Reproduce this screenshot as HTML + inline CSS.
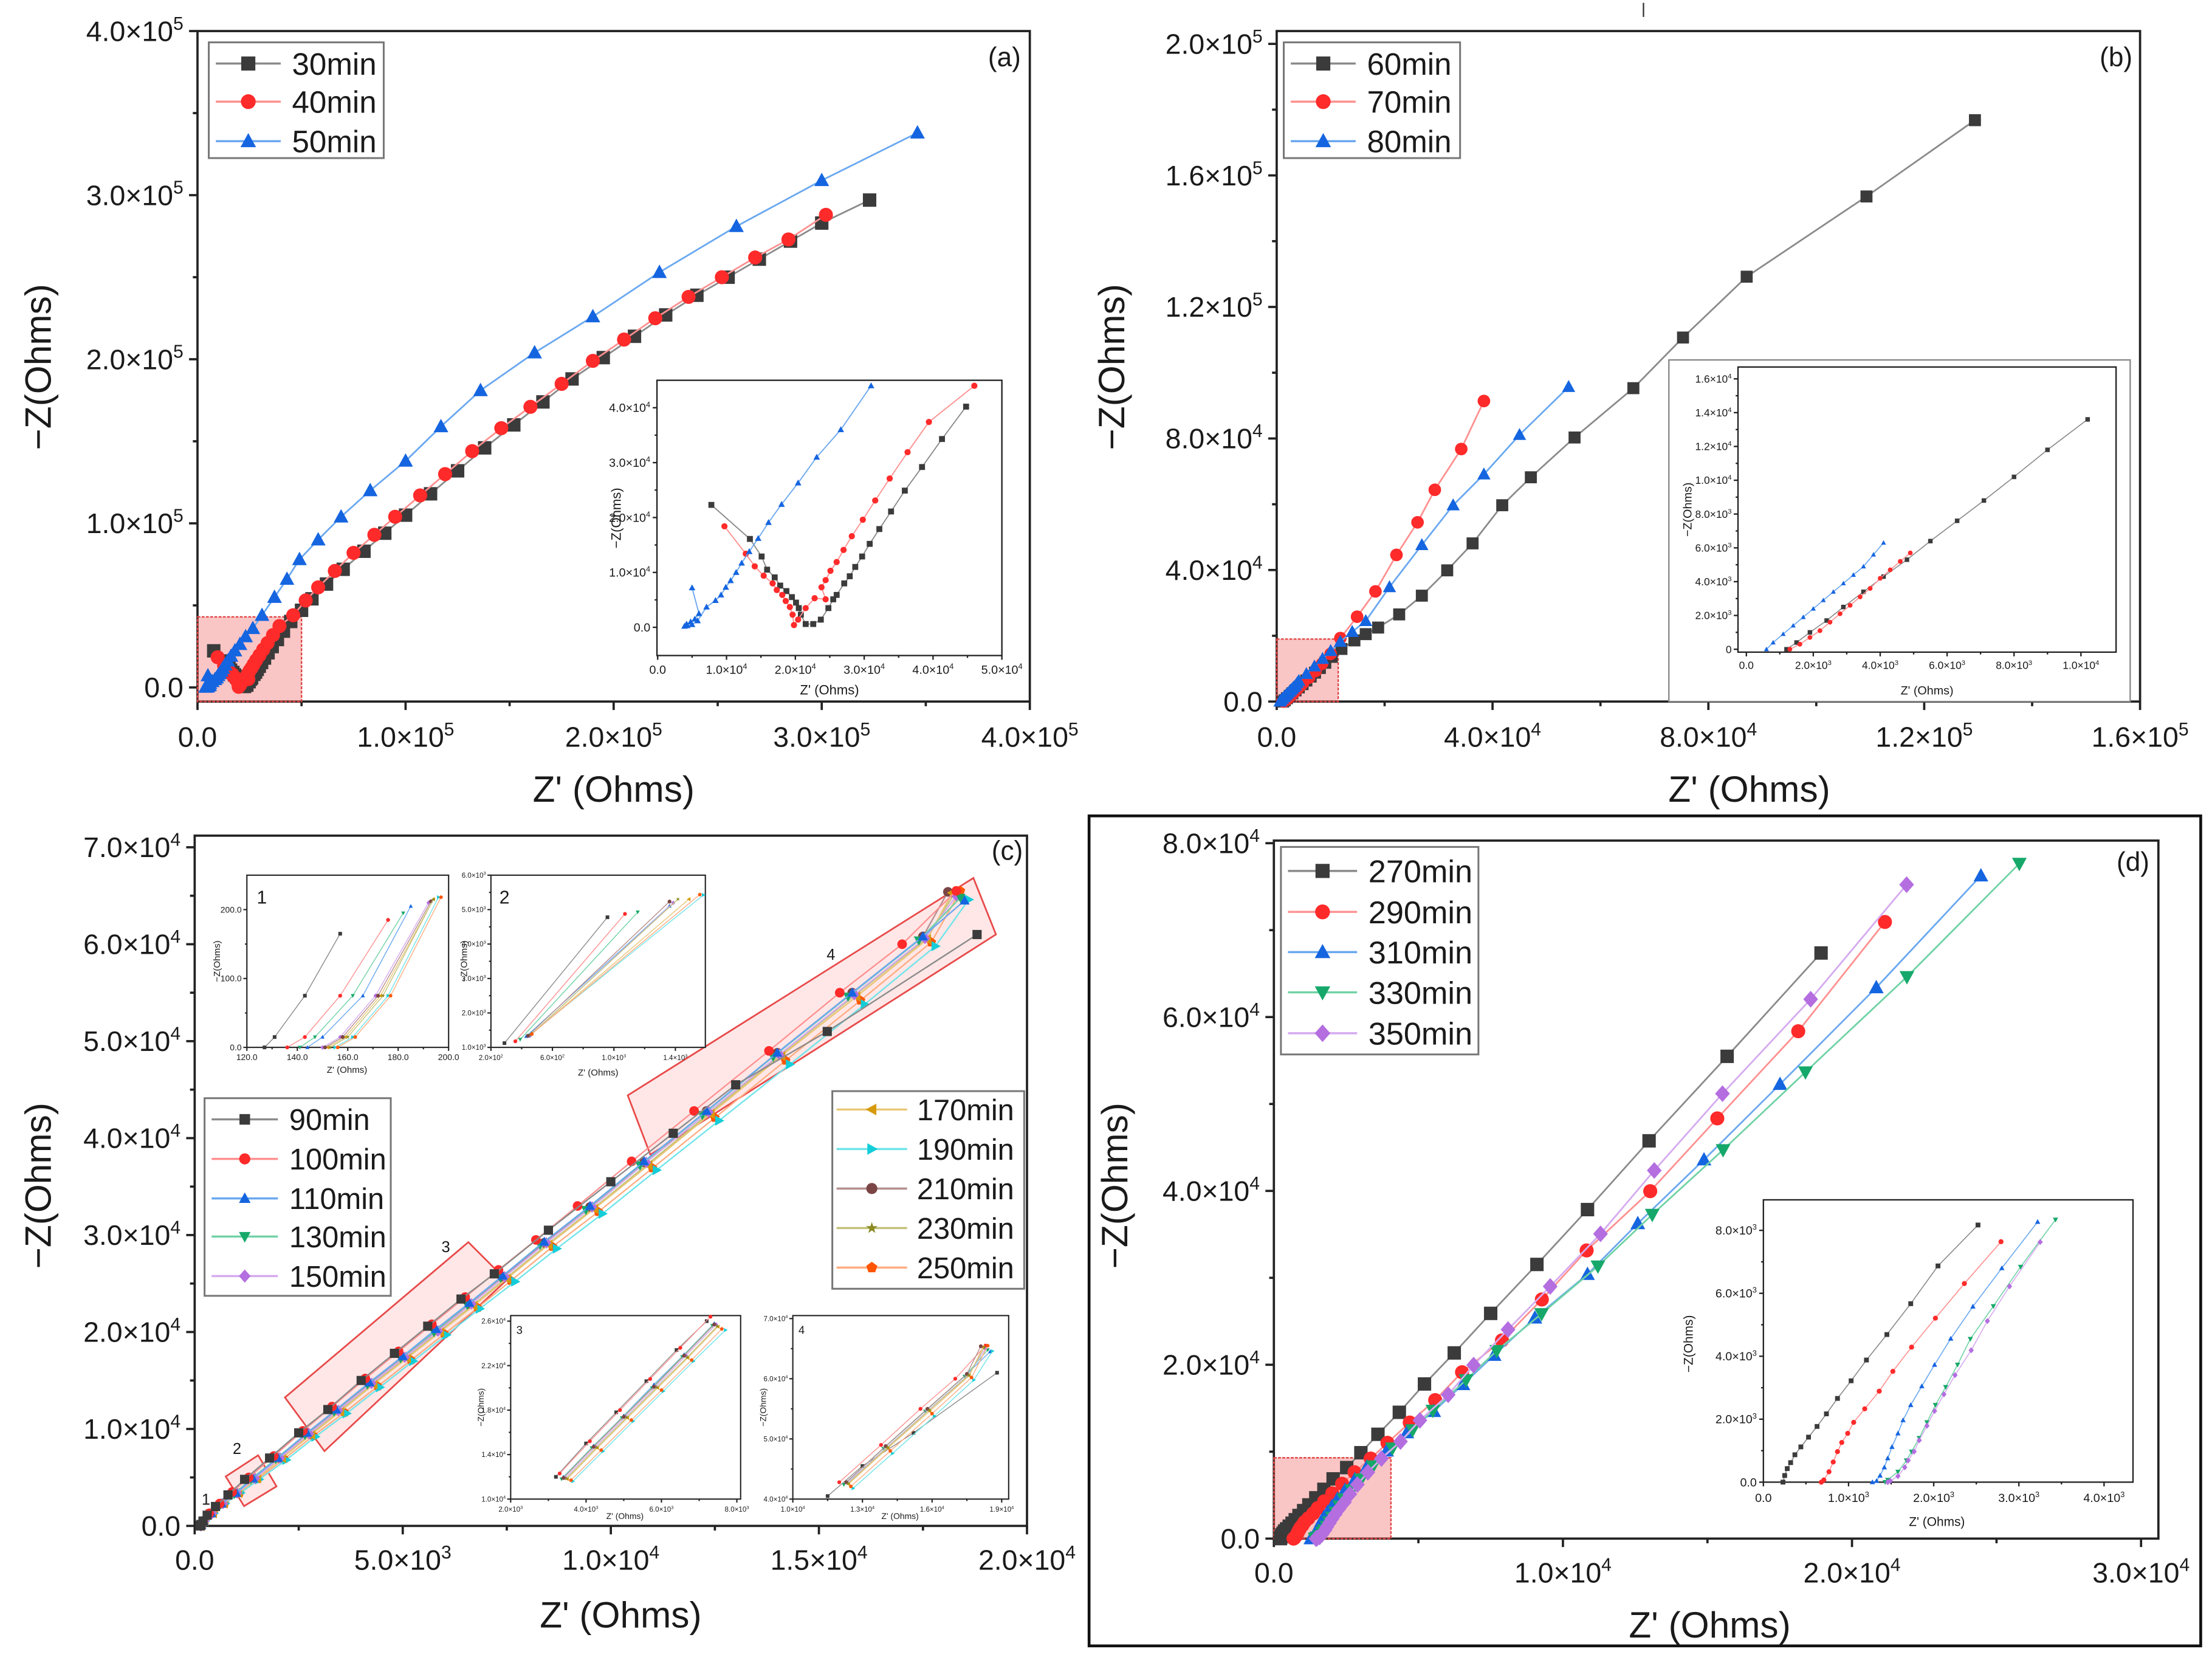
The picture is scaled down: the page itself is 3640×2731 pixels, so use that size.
<!DOCTYPE html>
<html><head><meta charset="utf-8"><title>Nyquist plots</title>
<style>html,body{margin:0;padding:0;background:#fff}svg{display:block}</style></head>
<body>
<svg id="fig" xmlns="http://www.w3.org/2000/svg" width="3640" height="2731" viewBox="0 0 1568 1176" preserveAspectRatio="none" font-family="'Liberation Sans', Arial, sans-serif">
<rect x="0" y="0" width="1568" height="1176" fill="#fff"/>
<rect x="772" y="578" width="788" height="588" fill="none" stroke="#111" stroke-width="2"/>
<line x1="1165" y1="2" x2="1165" y2="12" stroke="#333" stroke-width="1"/>
</svg>
<script>
// ---------- DATA (units: kOhm for main panels) ----------
const seriesA = ["30min","40min","50min"];
const a30x = [7.8,13.4,15.1,15.9,17,17.8,18.7,19.5,20.1,20.5,20.8,21.5,22.6,23.7,24.8,25.5,26,27.1,27.9,28.7,29.7,30.8,32.2,33.9,35.9,38.4,41.3,44.8,50,55,62,70,80,90,100,112,125,138,152,166,180,195,210,225,240,255,270,285,300,323];
const a30y = [22.3,16.1,12.9,10.5,9.1,7.6,6.6,5.5,4.5,3.5,2.3,0.6,0.6,1.4,3.5,5.1,5.9,8,9.3,11,12.9,15.2,17.9,21.1,24.9,29.2,34.3,40.2,47,54,63,72,83,94,105,118,132,146,160,174,188,201,214,227,239,250,261,272,283,297];
const a40x = [9.7,12.8,14.1,15.4,16.7,17.3,18.1,18.6,19.2,19.6,19.8,20.4,21.5,22.8,24.4,23.8,24.4,25.1,26,27,28.2,29.8,31.6,33.7,36.3,39.4,46,52,58,66,75,85,95,107,119,132,146,160,175,190,205,220,236,252,268,284,302];
const a40y = [18.4,13.4,11.1,9.4,8,6.8,5.9,4.8,3.7,2.3,0.4,1.4,3.5,5.3,5.1,7.3,8.6,10.3,11.9,14.1,16.6,19.6,23.1,27.1,31.9,37.4,44,53,61,71,82,93,104,117,130,144,158,171,185,199,212,225,238,250,262,273,288];
const a50x = [5,6,5.4,4.8,4.2,3.9,4.3,5,5.8,7.1,8.4,9.2,9.9,10.6,11.4,12.2,13.3,14.6,16.1,18,20.4,23.1,26.6,31,37,43,49,58,69,83,100,117,136,162,190,222,259,300,346];
const a50y = [7.2,2.5,1.5,1,0.6,0.2,0.3,0.5,1.2,3.7,4.9,5.9,7.3,8.5,10,11.7,13.8,16.2,19.1,22.4,26.3,31,36,44,55,66,78,90,104,120,138,159,181,204,226,253,281,309,338];

const seriesB = ["60min","70min","80min"];
const b60x = [1.2,1.5,1.9,2.4,2.9,3.5,4.1,4.8,5.5,6.3,7.1,8,9,10.2,12,14.4,16.5,18.8,22.7,26.9,31.6,36.3,41.8,47.1,55.2,66.1,75.3,87.1,109.3,129.4];
const b60y = [0,0.4,1,1.7,2.5,3.4,4.3,5.3,6.4,7.6,8.8,10.2,11.8,13.6,16,18.6,20.5,22.5,26.5,32.2,39.9,48.1,59.7,68.2,80.3,95.3,110.7,129.2,153.6,176.8];
const b70x = [1.3,1.6,1.9,2.2,2.5,2.8,3.1,3.4,3.7,4,4.3,4.6,4.9,6,7.2,8.4,10,11.8,14.9,18.3,22.2,26.1,29.3,34.2,38.4];
const b70y = [0,0.3,0.7,1.1,1.6,2.1,2.6,3.1,3.6,4.2,4.7,5.2,5.7,7.3,9.3,11.5,14.5,19.3,25.8,33.5,44.6,54.5,64.4,76.8,91.4];
const b80x = [0.6,0.8,1.1,1.4,1.7,2,2.3,2.6,2.9,3.2,3.5,3.8,4.1,5.5,7,8.5,10,11.8,14,16.5,20.9,26.9,32.7,38.4,45,54.1];
const b80y = [0,0.4,0.9,1.4,1.9,2.4,2.9,3.4,3.9,4.4,4.9,5.6,6.3,8.4,10.7,13,15.4,18.2,21.2,24.5,34.8,47.6,59.7,69.1,81.1,95.7];

const seriesC = ["90min","100min","110min","130min","150min","170min","190min","210min","230min","250min"];
const c90x  = [0.127,0.135,0.15,0.2,0.3,0.5,0.8,1.2,1.8,2.5,3.2,4,4.8,5.6,6.4,7.2,8.5,10,11.5,13,15.2,18.8];
const c90y  = [0,0.05,0.15,0.5,1.1,2,3.2,4.8,7,9.6,12,15,17.8,20.6,23.4,26,30.5,35.5,40.5,45.5,51,61];
const c100x = [0.137,0.15,0.2,0.35,0.6,0.9,1.3,1.9,2.6,3.3,4.1,4.9,5.7,6.5,7.3,8.2,9.2,10.5,12,13.8,15.5,17,18.3];
const c100y = [0,0.1,0.5,1.3,2.3,3.5,5,7.2,9.8,12.3,15.2,18,20.8,23.6,26.4,29.5,33,37.6,42.8,49,55,60,65.5];
const c110x = [0.145,0.16,0.22,0.4,0.65,1,1.4,2,2.7,3.4,4.2,5,5.8,6.6,7.4,8.4,9.5,10.8,12.3,14,15.8,17.5,18.5];
const c110y = [0,0.1,0.5,1.3,2.3,3.4,4.9,7,9.6,12,14.8,17.5,20.3,23,25.8,29.3,33,37.6,42.8,48.8,55,60.8,64.5];
const c130x = [0.142,0.155,0.21,0.38,0.62,0.95,1.35,1.95,2.65,3.35,4.15,4.95,5.75,6.55,7.35,8.3,9.4,10.7,12.2,13.9,15.7,17.4,18.4];
const c130y = [0,0.1,0.5,1.3,2.2,3.3,4.8,6.9,9.4,11.8,14.6,17.3,20,22.8,25.6,29,32.6,37.2,42.4,48.4,54.6,60.4,64.8];
const c150x = [0.15,0.165,0.23,0.42,0.68,1.02,1.45,2.05,2.75,3.45,4.25,5.05,5.85,6.65,7.45,8.45,9.55,10.85,12.35,14.05,15.85,17.55,18.3];
const c150y = [0,0.1,0.5,1.3,2.3,3.4,4.9,7,9.5,11.9,14.7,17.4,20.1,22.9,25.7,29.2,32.9,37.5,42.7,48.6,54.8,60.6,65];
const c170x = [0.153,0.17,0.24,0.44,0.7,1.05,1.5,2.1,2.8,3.5,4.3,5.1,5.9,6.7,7.5,8.5,9.6,10.9,12.4,14.1,15.9,17.6,18.2];
const c170y = [0,0.1,0.5,1.3,2.3,3.4,4.9,7,9.4,11.8,14.6,17.3,20,22.7,25.5,29,32.7,37.2,42.5,48.5,54.6,60.5,65.3];
const c190x = [0.158,0.175,0.25,0.46,0.73,1.1,1.55,2.2,2.9,3.65,4.45,5.25,6.05,6.85,7.7,8.7,9.8,11.1,12.6,14.3,16.1,17.8,18.6];
const c190y = [0,0.1,0.5,1.3,2.3,3.4,4.8,6.8,9.2,11.6,14.3,17,19.7,22.4,25.2,28.6,32.2,36.7,41.8,47.6,53.8,59.8,64.6];
const c210x = [0.15,0.165,0.22,0.41,0.66,1,1.42,2,2.7,3.4,4.2,5,5.8,6.6,7.4,8.4,9.5,10.8,12.3,14,15.8,17.5,18.1];
const c210y = [0,0.1,0.5,1.3,2.3,3.4,4.9,7,9.5,11.9,14.7,17.4,20.1,22.9,25.7,29.2,32.9,37.5,42.8,48.8,55,60.8,65.4];
const c230x = [0.152,0.168,0.235,0.43,0.69,1.03,1.47,2.07,2.78,3.48,4.28,5.08,5.88,6.68,7.48,8.48,9.58,10.88,12.38,14.08,15.88,17.58,18.25];
const c230y = [0,0.1,0.5,1.3,2.3,3.4,4.9,7,9.45,11.85,14.65,17.35,20.05,22.75,25.55,29.05,32.75,37.3,42.6,48.6,54.8,60.6,65.2];
const c250x = [0.156,0.172,0.245,0.45,0.72,1.08,1.52,2.15,2.85,3.6,4.4,5.2,6,6.8,7.6,8.6,9.7,11,12.5,14.2,16,17.7,18.4];
const c250y = [0,0.1,0.5,1.3,2.3,3.4,4.85,6.9,9.3,11.7,14.4,17.1,19.8,22.5,25.3,28.8,32.4,36.9,42.1,48,54.2,60.2,65.5];
// inset 1 (Ohms)
const c1x = [[127,131,143,157],[136,143,157,176],[144,150,166,185],[141,147,162,182],[150,157,171,192],[152,159,173,194],[155,162,176,196],[151,158,172,193],[153,160,174,194],[156,163,177,197]];
const c1y = [[0,15,75,165],[0,15,75,185],[0,15,75,205],[0,15,75,195],[0,15,75,210],[0,15,75,215],[0,15,75,218],[0,15,75,212],[0,15,75,215],[0,15,75,218]];
// inset 2 (Ohms)
const c2x = [[288,958],[359,1072],[430,1362],[390,1155],[454,1386],[466,1488],[466,1583],[442,1362],[459,1417],[466,1559]];
const c2y = [[1123,4778],[1177,4875],[1322,5105],[1230,4928],[1338,5196],[1391,5303],[1407,5426],[1338,5234],[1364,5303],[1391,5437]];

const seriesD = ["270min","290min","310min","330min","350min"];
const d270x = [0.23,0.25,0.28,0.32,0.37,0.44,0.53,0.63,0.74,0.87,1.03,1.21,1.45,1.73,2.05,2.52,3.01,3.6,4.34,5.21,6.24,7.5,9.1,10.85,12.98,15.68,18.93];
const d270y = [0,0.21,0.43,0.62,0.87,1.12,1.43,1.77,2.17,2.66,3.22,3.88,4.69,5.67,6.87,8.17,9.88,12,14.53,17.79,21.36,25.91,31.54,37.85,45.76,55.48,67.37];
const d290x = [0.68,0.71,0.77,0.82,0.87,0.92,0.99,1.06,1.19,1.36,1.52,1.74,2.02,2.36,2.79,3.35,3.93,4.7,5.58,6.51,7.89,9.27,10.82,13.02,15.34,18.14,21.14];
const d290y = [0,0.07,0.33,0.64,0.97,1.26,1.55,1.9,2.33,2.89,3.52,4.29,5.21,6.31,7.64,9.21,11.02,13.35,15.93,19.14,22.8,27.51,33.15,39.97,48.34,58.37,70.94];
const d310x = [1.28,1.33,1.37,1.42,1.46,1.51,1.58,1.64,1.73,1.86,2.01,2.2,2.46,2.8,3.22,3.9,4.6,5.53,6.54,7.62,9.03,10.85,12.59,14.88,17.51,20.84,24.46];
const d310y = [0,0.04,0.21,0.47,0.76,1.12,1.55,1.97,2.45,3.05,3.73,4.56,5.58,6.8,8.27,10.1,12.2,14.64,17.74,21.1,25.39,30.41,36.25,43.59,52.27,63.39,76.26];
const d330x = [1.43,1.46,1.58,1.68,1.74,1.83,1.92,2.02,2.14,2.28,2.43,2.7,3.02,3.43,4.1,4.8,5.5,6.65,7.71,9.26,11.21,13.09,15.54,18.39,21.9,25.79];
const d330y = [0,0.07,0.33,0.69,0.97,1.4,1.9,2.45,3.02,3.73,4.55,5.59,6.84,8.34,10.4,12.5,14.74,18.26,21.62,25.86,31.34,37.28,44.72,53.67,64.63,77.66];
const d350x = [1.46,1.49,1.58,1.66,1.7,1.77,1.83,1.92,2.01,2.12,2.25,2.44,2.63,2.89,3.25,3.72,4.38,5.05,6.03,6.91,8.1,9.56,11.3,13.16,15.52,18.57,21.89];
const d350y = [0,0.04,0.19,0.47,0.69,0.97,1.33,1.79,2.26,2.79,3.4,4.19,5.12,6.22,7.63,9.21,11.17,13.6,16.55,19.96,24.05,29.01,35.06,42.35,51.19,62.05,75.23];

// tick arrays
const aTicks = [0,100,200,300,400];
const aTickLabels = ["0.0","1.0×10^5","2.0×10^5","3.0×10^5","4.0×10^5"];
const aiXTicks = [0,10,20,30,40,50];
const aiXLabels = ["0.0","1.0×10^4","2.0×10^4","3.0×10^4","4.0×10^4","5.0×10^4"];
const aiYTicks = [0,10,20,30,40];
const aiYLabels = ["0.0","1.0×10^4","2.0×10^4","3.0×10^4","4.0×10^4"];
const bXTicks = [0,40,80,120,160];
const bXLabels = ["0.0","4.0×10^4","8.0×10^4","1.2×10^5","1.6×10^5"];
const bYTicks = [0,40,80,120,160,200];
const bYLabels = ["0.0","4.0×10^4","8.0×10^4","1.2×10^5","1.6×10^5","2.0×10^5"];
const biXTicks = [0,2,4,6,8,10];
const biXLabels = ["0.0","2.0×10^3","4.0×10^3","6.0×10^3","8.0×10^3","1.0×10^4"];
const biYTicks = [0,2,4,6,8,10,12,14,16];
const biYLabels = ["0","2.0×10^3","4.0×10^3","6.0×10^3","8.0×10^3","1.0×10^4","1.2×10^4","1.4×10^4","1.6×10^4"];
const cXTicks = [0,5,10,15,20];
const cXLabels = ["0.0","5.0×10^3","1.0×10^4","1.5×10^4","2.0×10^4"];
const cYTicks = [0,10,20,30,40,50,60,70];
const cYLabels = ["0.0","1.0×10^4","2.0×10^4","3.0×10^4","4.0×10^4","5.0×10^4","6.0×10^4","7.0×10^4"];
const c1XTicks = [120,140,160,180,200], c1XLabels = ["120.0","140.0","160.0","180.0","200.0"];
const c1YTicks = [0,100,200], c1YLabels = ["0.0","100.0","200.0"];
const c2XTicks = [200,600,1000,1400], c2XLabels = ["2.0×10^2","6.0×10^2","1.0×10^3","1.4×10^3"];
const c2YTicks = [1000,2000,3000,4000,5000,6000], c2YLabels = ["1.0×10^3","2.0×10^3","3.0×10^3","4.0×10^3","5.0×10^3","6.0×10^3"];
const c3XTicks = [2,4,6,8], c3XLabels = ["2.0×10^3","4.0×10^3","6.0×10^3","8.0×10^3"];
const c3YTicks = [10,14,18,22,26], c3YLabels = ["1.0×10^4","1.4×10^4","1.8×10^4","2.2×10^4","2.6×10^4"];
const c4XTicks = [10,13,16,19], c4XLabels = ["1.0×10^4","1.3×10^4","1.6×10^4","1.9×10^4"];
const c4YTicks = [40,50,60,70], c4YLabels = ["4.0×10^4","5.0×10^4","6.0×10^4","7.0×10^4"];
const dXTicks = [0,10,20,30], dXLabels = ["0.0","1.0×10^4","2.0×10^4","3.0×10^4"];
const dYTicks = [0,20,40,60,80], dYLabels = ["0.0","2.0×10^4","4.0×10^4","6.0×10^4","8.0×10^4"];
const diXTicks = [0,1,2,3,4], diXLabels = ["0.0","1.0×10^3","2.0×10^3","3.0×10^3","4.0×10^3"];
const diYTicks = [0,2,4,6,8], diYLabels = ["0.0","2.0×10^3","4.0×10^3","6.0×10^3","8.0×10^3"];

// ---------- RENDERING ----------
const NS = "http://www.w3.org/2000/svg";
const svg = document.getElementById('fig');
function mk(tag, parent, attrs) {
  const e = document.createElementNS(NS, tag);
  for (const k in attrs) e.setAttribute(k, attrs[k]);
  parent.appendChild(e);
  return e;
}
const STY = {
  black:{f:"#3b3b3b",l:"#8a8a8a",m:"square"}, red:{f:"#ff2a2a",l:"#ff9090",m:"circle"},
  blue:{f:"#1565e0",l:"#6aa8f0",m:"up"}, green:{f:"#16a86a",l:"#6fd2a5",m:"down"},
  violet:{f:"#b46ee0",l:"#d5aaf0",m:"diamond"}, gold:{f:"#d79a0c",l:"#eac676",m:"left"},
  cyan:{f:"#14cdd8",l:"#6fe4ea",m:"right"}, brown:{f:"#7b4545",l:"#b48e8e",m:"circle"},
  olive:{f:"#8a8a20",l:"#c2c27c",m:"star"}, orange:{f:"#ff5500",l:"#ffac80",m:"pent"}
};
function marker(parent, shape, x, y, s, color) {
  const h = s/2; let e;
  if (shape === "square") e = mk("rect", parent, {x:x-h, y:y-h, width:s, height:s});
  else if (shape === "circle") e = mk("circle", parent, {cx:x, cy:y, r:h*1.05});
  else {
    let p;
    if (shape === "up") p = [[x,y-h*1.15],[x+h*1.1,y+h*0.85],[x-h*1.1,y+h*0.85]];
    else if (shape === "down") p = [[x,y+h*1.15],[x+h*1.1,y-h*0.85],[x-h*1.1,y-h*0.85]];
    else if (shape === "left") p = [[x-h*1.15,y],[x+h*0.85,y-h*1.1],[x+h*0.85,y+h*1.1]];
    else if (shape === "right") p = [[x+h*1.15,y],[x-h*0.85,y-h*1.1],[x-h*0.85,y+h*1.1]];
    else if (shape === "diamond") p = [[x,y-h*1.25],[x+h*1.1,y],[x,y+h*1.25],[x-h*1.1,y]];
    else if (shape === "star") { p = []; for (let i=0;i<10;i++){const r=(i%2?0.45:1.15)*h, a=-Math.PI/2+i*Math.PI/5; p.push([x+r*Math.cos(a), y+r*Math.sin(a)]);} }
    else { p = []; for (let i=0;i<5;i++){const a=-Math.PI/2+i*2*Math.PI/5; p.push([x+h*1.1*Math.cos(a), y+h*1.1*Math.sin(a)]);} }
    e = mk("polygon", parent, {points: p.map(q=>q[0].toFixed(2)+","+q[1].toFixed(2)).join(" ")});
  }
  e.setAttribute("fill", color);
  
  
  return e;
}
function sx(P, v) { return P.px0 + (v - P.x0) / (P.x1 - P.x0) * (P.px1 - P.px0); }
function sy(P, v) { return P.py0 - (v - P.y0) / (P.y1 - P.y0) * (P.py0 - P.py1); }
function label(parent, x, y, s, size, anchor, rot) {
  const t = mk("text", parent, {x:x, y:y, "font-size":size, "text-anchor":anchor||"middle", fill:"#1a1a1a"});
  if (rot) t.setAttribute("transform", "rotate(-90 "+x+" "+y+")");
  const parts = s.split("^");
  t.appendChild(document.createTextNode(parts[0]));
  if (parts.length > 1) {
    const sp = mk("tspan", t, {dy:(-size*0.4).toFixed(2), "font-size":(size*0.65).toFixed(2)});
    sp.textContent = parts[1];
  }
  return t;
}
function axes(g, P, xt, xl, yt, yl, o) {
  const fr = mk("rect", g, {x:P.px0, y:P.py1, width:P.px1-P.px0, height:P.py0-P.py1, fill:o.bg||"none", stroke:"#222", "stroke-width":o.lw});
  
  
  const tl = o.tick;
  const xa = mk("g", g, {});
  
  
  xt.forEach((v,i) => {
    const x = sx(P, v);
    mk("line", xa, {x1:x, y1:P.py0, x2:x, y2:P.py0+tl, stroke:"#222", "stroke-width":o.lw});
    if (i < xt.length-1) { const xm = sx(P, (v + xt[i+1])/2); mk("line", xa, {x1:xm, y1:P.py0, x2:xm, y2:P.py0+tl*0.55, stroke:"#222", "stroke-width":o.lw}); }
    const t = label(xa, x, P.py0 + o.xoff, xl[i], o.fs, "middle");
    
    
  });
  const ya = mk("g", g, {});
  
  
  yt.forEach((v,i) => {
    const y = sy(P, v);
    mk("line", ya, {x1:P.px0-tl, y1:y, x2:P.px0, y2:y, stroke:"#222", "stroke-width":o.lw});
    if (i < yt.length-1) { const ym = sy(P, (v + yt[i+1])/2); mk("line", ya, {x1:P.px0-tl*0.55, y1:ym, x2:P.px0, y2:ym, stroke:"#222", "stroke-width":o.lw}); }
    const t = label(ya, P.px0 - tl - o.fs*0.2, y + o.fs*0.35, yl[i], o.fs, "end");
    
    
  });
  const xtit = label(g, o.xt[0], o.xt[1], "Z' (Ohms)", o.tfs, "middle");
  
  
  const ytit = label(g, o.yt[0], o.yt[1], "\u2212Z(Ohms)", o.tfs, "middle", true);
  
  
}
function series(g, P, xs, ys, st, size, lw, lim) {
  const sg = mk("g", g, {});
  
  
  const pts = [];
  const n = Math.min(xs.length, ys.length);
  for (let i=0;i<n;i++) {
    if (lim && (xs[i] < lim[0] || xs[i] > lim[1] || ys[i] < lim[2] || ys[i] > lim[3])) continue;
    pts.push([sx(P, xs[i]), sy(P, ys[i])]);
  }
  const pl = mk("polyline", sg, {points: pts.map(p=>p[0].toFixed(2)+","+p[1].toFixed(2)).join(" "), fill:"none", stroke:st.l, "stroke-width":lw});
  
  
  pts.forEach(p => marker(sg, st.m, p[0], p[1], size, st.f));
  return sg;
}
function legend(g, x, y, w, h, names, styles, rowY, lx0, lx1, tx, fs, ms) {
  const lg = mk("g", g, {});
  
  
  mk("rect", lg, {x:x, y:y, width:w, height:h, fill:"#fff", stroke:"#777", "stroke-width":1.3});
  names.forEach((nm,i) => {
    const e = mk("g", lg, {});
    
    
    const yy = rowY[i];
    mk("line", e, {x1:lx0, y1:yy, x2:lx1, y2:yy, stroke:styles[i].l, "stroke-width":1.5});
    marker(e, styles[i].m, (lx0+lx1)/2, yy, ms, styles[i].f);
    const t = label(e, tx, yy + fs*0.36, nm, fs, "start");
    
  });
}
function redbox(g, pts) {
  const p = mk("polygon", g, {points: pts.map(q=>q.join(",")).join(" "), fill:"rgba(255,170,170,0.28)", stroke:"#e84a4a", "stroke-width":1.2});
  
  
}
function panelTag(g, x, y, s) {
  const t = label(g, x, y, s, 19, "middle");
  
  
}
function group(name) {
  const g = mk("g", svg, {});
  
  
  return g;
}
const MAIN = {lw:1.6, tick:6, fs:20, tfs:26, xoff:32};

// ---------- Panel (a) ----------
(function(){
  const g = group('panel-a');
  const P = {px0:140, px1:730, py0:497, py1:22, x0:0, x1:400, y0:-8.6, y1:400};
  axes(g, P, aTicks, aTickLabels, aTicks, aTickLabels, Object.assign({}, MAIN, {xt:[435,568], yt:[36,260]}));
  const b = mk("rect", g, {x:sx(P,0), y:sy(P,43), width:sx(P,50)-sx(P,0), height:P.py0-sy(P,43), fill:"rgba(240,90,90,0.35)", stroke:"#e04040", "stroke-width":1, "stroke-dasharray":"2,1"});
  
  
  const st = [STY.black, STY.red, STY.blue], X = [a30x,a40x,a50x], Y = [a30y,a40y,a50y];
  for (let i=0;i<3;i++) series(g, P, X[i], Y[i], st[i], 9.5, 1.2);
  legend(g, 148, 30, 124, 82, seriesA, st, [45,72,100], 153, 199, 207, 22, 10);
  panelTag(g, 712, 47, "(a)");
  const I = {px0:465.7, px1:710.2, py0:464.4, py1:269.4, x0:-0.1, x1:50, y0:-5.14, y1:45};
  const ig = group('inset-a');
  axes(ig, I, aiXTicks, aiXLabels, aiYTicks, aiYLabels, {lw:1, tick:3, fs:8.5, tfs:9.5, xoff:13, bg:"#fff", xt:[588,492], yt:[440,367]});
  for (let i=0;i<3;i++) series(ig, I, X[i], Y[i], st[i], 4.2, 0.8, [0,50,-5,45]);
})();

// ---------- Panel (b) ----------
(function(){
  const g = group('panel-b');
  const P = {px0:905, px1:1517, py0:497, py1:22, x0:0, x1:160, y0:0, y1:203.9};
  axes(g, P, bXTicks, bXLabels, bYTicks, bYLabels, Object.assign({}, MAIN, {xt:[1240,568], yt:[797,260]}));
  const b = mk("rect", g, {x:sx(P,0), y:sy(P,19), width:sx(P,11.4)-sx(P,0), height:P.py0-sy(P,19), fill:"rgba(240,90,90,0.35)", stroke:"#e04040", "stroke-width":1, "stroke-dasharray":"2,1"});
  
  
  const st = [STY.black, STY.red, STY.blue], X = [b60x,b70x,b80x], Y = [b60y,b70y,b80y];
  for (let i=0;i<3;i++) series(g, P, X[i], Y[i], st[i], 8.5, 1.2);
  legend(g, 910, 30, 125, 82, seriesB, st, [45,72,100], 915, 961, 969, 22, 10);
  panelTag(g, 1500, 47, "(b)");
  const bo = mk("rect", g, {x:1183, y:255, width:327, height:242, fill:"#fff", stroke:"#888", "stroke-width":1});
  
  
  const I = {px0:1232, px1:1500, py0:462, py1:260, x0:-0.25, x1:11.05, y0:-0.17, y1:16.7};
  const ig = group('inset-b');
  axes(ig, I, biXTicks, biXLabels, biYTicks, biYLabels, {lw:1, tick:3, fs:7.5, tfs:8.5, xoff:12, xt:[1366,492], yt:[1199,361]});
  const lims = [10.6, 5, 4.2];
  for (let i=0;i<3;i++) series(ig, I, X[i], Y[i], st[i], 3.2, 0.7, [0,lims[i],0,16.5]);
})();

// ---------- Panel (c) ----------
(function(){
  const g = group('panel-c');
  const P = {px0:138, px1:728, py0:1081, py1:592, x0:0, x1:20, y0:0, y1:71.2};
  axes(g, P, cXTicks, cXLabels, cYTicks, cYLabels, Object.assign({}, MAIN, {xoff:31, xt:[440,1153], yt:[36,840]}));
  redbox(g, [[445,776],[690,622],[706,662],[461,818]]);
  redbox(g, [[202,990],[332,880],[359,907],[230,1028]]);
  redbox(g, [[160,1046],[183,1031],[196,1053],[173,1067]]);
  const st = [STY.black,STY.red,STY.blue,STY.green,STY.violet,STY.gold,STY.cyan,STY.brown,STY.olive,STY.orange];
  const X = [c90x,c100x,c110x,c130x,c150x,c170x,c190x,c210x,c230x,c250x];
  const Y = [c90y,c100y,c110y,c130y,c150y,c170y,c190y,c210y,c230y,c250y];
  for (let i=st.length-1;i>=0;i--) series(g, P, X[i], Y[i], st[i], 6.5, 1);
  [["1",146,1066],["2",168,1030],["3",316,887],["4",589,680]].forEach(a => { const t = label(g, a[1], a[2], a[0], 11, "middle");   });
  legend(g, 145, 778, 132, 140, seriesC.slice(0,5), st.slice(0,5), [793,821,849,876,904], 150, 197, 205, 21, 7.5);
  legend(g, 590, 773, 136, 140, seriesC.slice(5), st.slice(5), [786,814,842,870,898], 593, 643, 650, 21, 7.5);
  panelTag(g, 714, 609, "(c)");
  const I1 = {px0:175, px1:318, py0:742, py1:620, x0:120, x1:200, y0:0, y1:250};
  const g1 = group('inset-c1');
  axes(g1, I1, c1XTicks, c1XLabels, c1YTicks, c1YLabels, {lw:0.9, tick:2.5, fs:6, tfs:6.5, xoff:9, bg:"#fff", xt:[246,760], yt:[156,681]});
  for (let i=0;i<10;i++) series(g1, I1, c1x[i], c1y[i], st[i], 2.6, 0.6);
  label(g1, 182, 640, "1", 13, "start");
  const I2 = {px0:348, px1:500, py0:742, py1:620, x0:200, x1:1595, y0:1000, y1:6000};
  const g2 = group('inset-c2');
  axes(g2, I2, c2XTicks, c2XLabels, c2YTicks, c2YLabels, {lw:0.9, tick:2.5, fs:5, tfs:6.5, xoff:9, bg:"#fff", xt:[424,762], yt:[331,681]});
  for (let i=0;i<10;i++) series(g2, I2, c2x[i], c2y[i], st[i], 2.6, 0.6);
  label(g2, 354, 640, "2", 13, "start");
  const I3 = {px0:362, px1:525, py0:1062, py1:932, x0:2, x1:8.1, y0:10, y1:26.5};
  const g3 = group('inset-c3');
  axes(g3, I3, c3XTicks, c3XLabels, c3YTicks, c3YLabels, {lw:0.9, tick:2.5, fs:5, tfs:6, xoff:9, bg:"#fff", xt:[443,1076], yt:[343,997]});
  for (let i=0;i<10;i++) series(g3, I3, X[i], Y[i], st[i], 2.6, 0.6, [2,8.1,10,26.5]);
  label(g3, 366, 945, "3", 8, "start");
  const I4 = {px0:562, px1:715, py0:1062, py1:932, x0:10, x1:19.3, y0:40, y1:70.5};
  const g4 = group('inset-c4');
  axes(g4, I4, c4XTicks, c4XLabels, c4YTicks, c4YLabels, {lw:0.9, tick:2.5, fs:5, tfs:6, xoff:9, bg:"#fff", xt:[638,1076], yt:[543,997]});
  for (let i=0;i<10;i++) series(g4, I4, X[i], Y[i], st[i], 2.6, 0.6, [10,19.3,40,70.5]);
  label(g4, 566, 945, "4", 8, "start");
})();

// ---------- Panel (d) ----------
(function(){
  const g = group('panel-d');
  const P = {px0:903, px1:1530, py0:1090, py1:595.5, x0:0, x1:30.6, y0:0, y1:80.3};
  axes(g, P, dXTicks, dXLabels, dYTicks, dYLabels, Object.assign({}, MAIN, {xoff:31, xt:[1212,1160], yt:[799,840]}));
  const b = mk("rect", g, {x:sx(P,0), y:sy(P,9.3), width:sx(P,4.05)-sx(P,0), height:P.py0-sy(P,9.3), fill:"rgba(240,90,90,0.35)", stroke:"#e04040", "stroke-width":1, "stroke-dasharray":"2,1"});
  
  
  const st = [STY.black,STY.red,STY.blue,STY.green,STY.violet];
  const X = [d270x,d290x,d310x,d330x,d350x], Y = [d270y,d290y,d310y,d330y,d350y];
  for (let i=0;i<5;i++) series(g, P, X[i], Y[i], st[i], 9.5, 1.2);
  legend(g, 908, 600, 140, 147, seriesD, st, [617,646,674.5,703,732], 913, 962, 970, 22.5, 10);
  panelTag(g, 1512, 617, "(d)");
  const I = {px0:1250, px1:1512, py0:1050, py1:850, x0:0, x1:4.34, y0:0, y1:8.97};
  const ig = group('inset-d');
  axes(ig, I, diXTicks, diXLabels, diYTicks, diYLabels, {lw:1, tick:3, fs:8.5, tfs:9, xoff:14, bg:"#fff", xt:[1373,1081], yt:[1200,952]});
  for (let i=0;i<5;i++) series(ig, I, X[i], Y[i], st[i], 3.4, 0.7, [0,3.6,0,8.6]);
})();
</script>
</body></html>
